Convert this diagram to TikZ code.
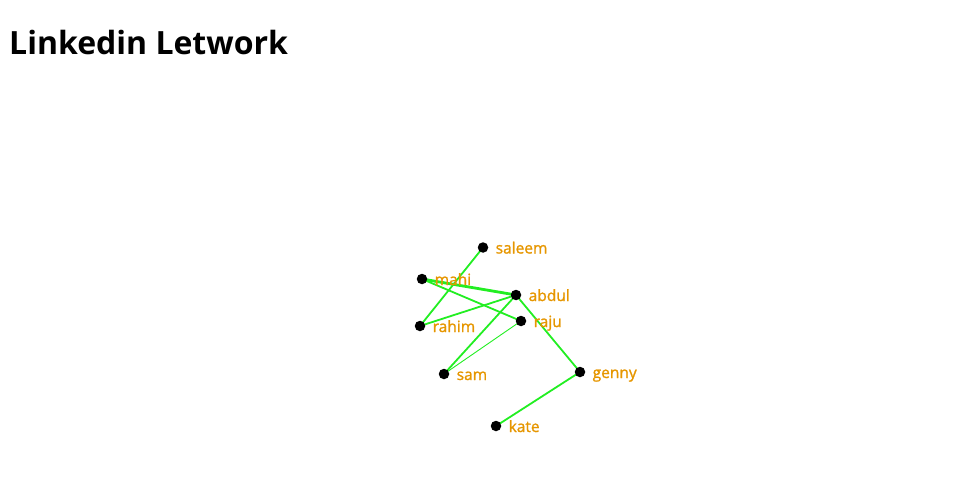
\documentclass[tikz,border=0pt]{standalone}
\usepackage{fontspec}
\setmainfont{Open Sans}
\newfontfamily\lblfont[FakeBold=1.3]{Open Sans}
\definecolor{lab}{RGB}{230,150,0}
\definecolor{edg}{RGB}{34,238,34}
\begin{document}
\begin{tikzpicture}[x=1pt,y=-1pt,
  vtx/.style={circle,fill=black,inner sep=0pt,minimum size=10.5pt},
  lbl/.style={text=lab,font=\lblfont\fontsize{15.5}{18}\selectfont,anchor=base west,inner sep=0pt},
  edge/.style={draw=edg,line width=1.8pt},
  ttl/.style={font=\fontsize{32}{38}\selectfont\bfseries,anchor=base west,inner sep=0pt}]
\useasboundingbox (0,0) rectangle (960,500);
\node[ttl] (title) at (9,55) {Linkedin Letwork};
\foreach \n/\x/\y in {saleem/483/247.5, mahi/422/279, abdul/516/295, raju/521/321, rahim/420/326, sam/444/374, genny/580/372, kate/496/426}{
  \coordinate (\n) at (\x,\y);
}
\draw[edge] (saleem) -- (rahim);
\draw[edge,line width=2.8pt] (mahi) -- (abdul);
\draw[edge] (mahi) -- (raju);
\draw[edge] (rahim) -- (abdul);
\draw[edge] (abdul) -- (sam);
\draw[edge,line width=0.9pt] (raju) -- (sam);
\draw[edge] (abdul) -- (genny);
\draw[edge] (genny) -- (kate);
\foreach \n in {saleem,mahi,abdul,raju,rahim,sam,genny,kate}{
  \node[vtx] (v\n) at (\n) {};
  \node[lbl] (l\n) at ([xshift=12.5pt,yshift=-6pt]\n) {\n};
}
\end{tikzpicture}
\end{document}
